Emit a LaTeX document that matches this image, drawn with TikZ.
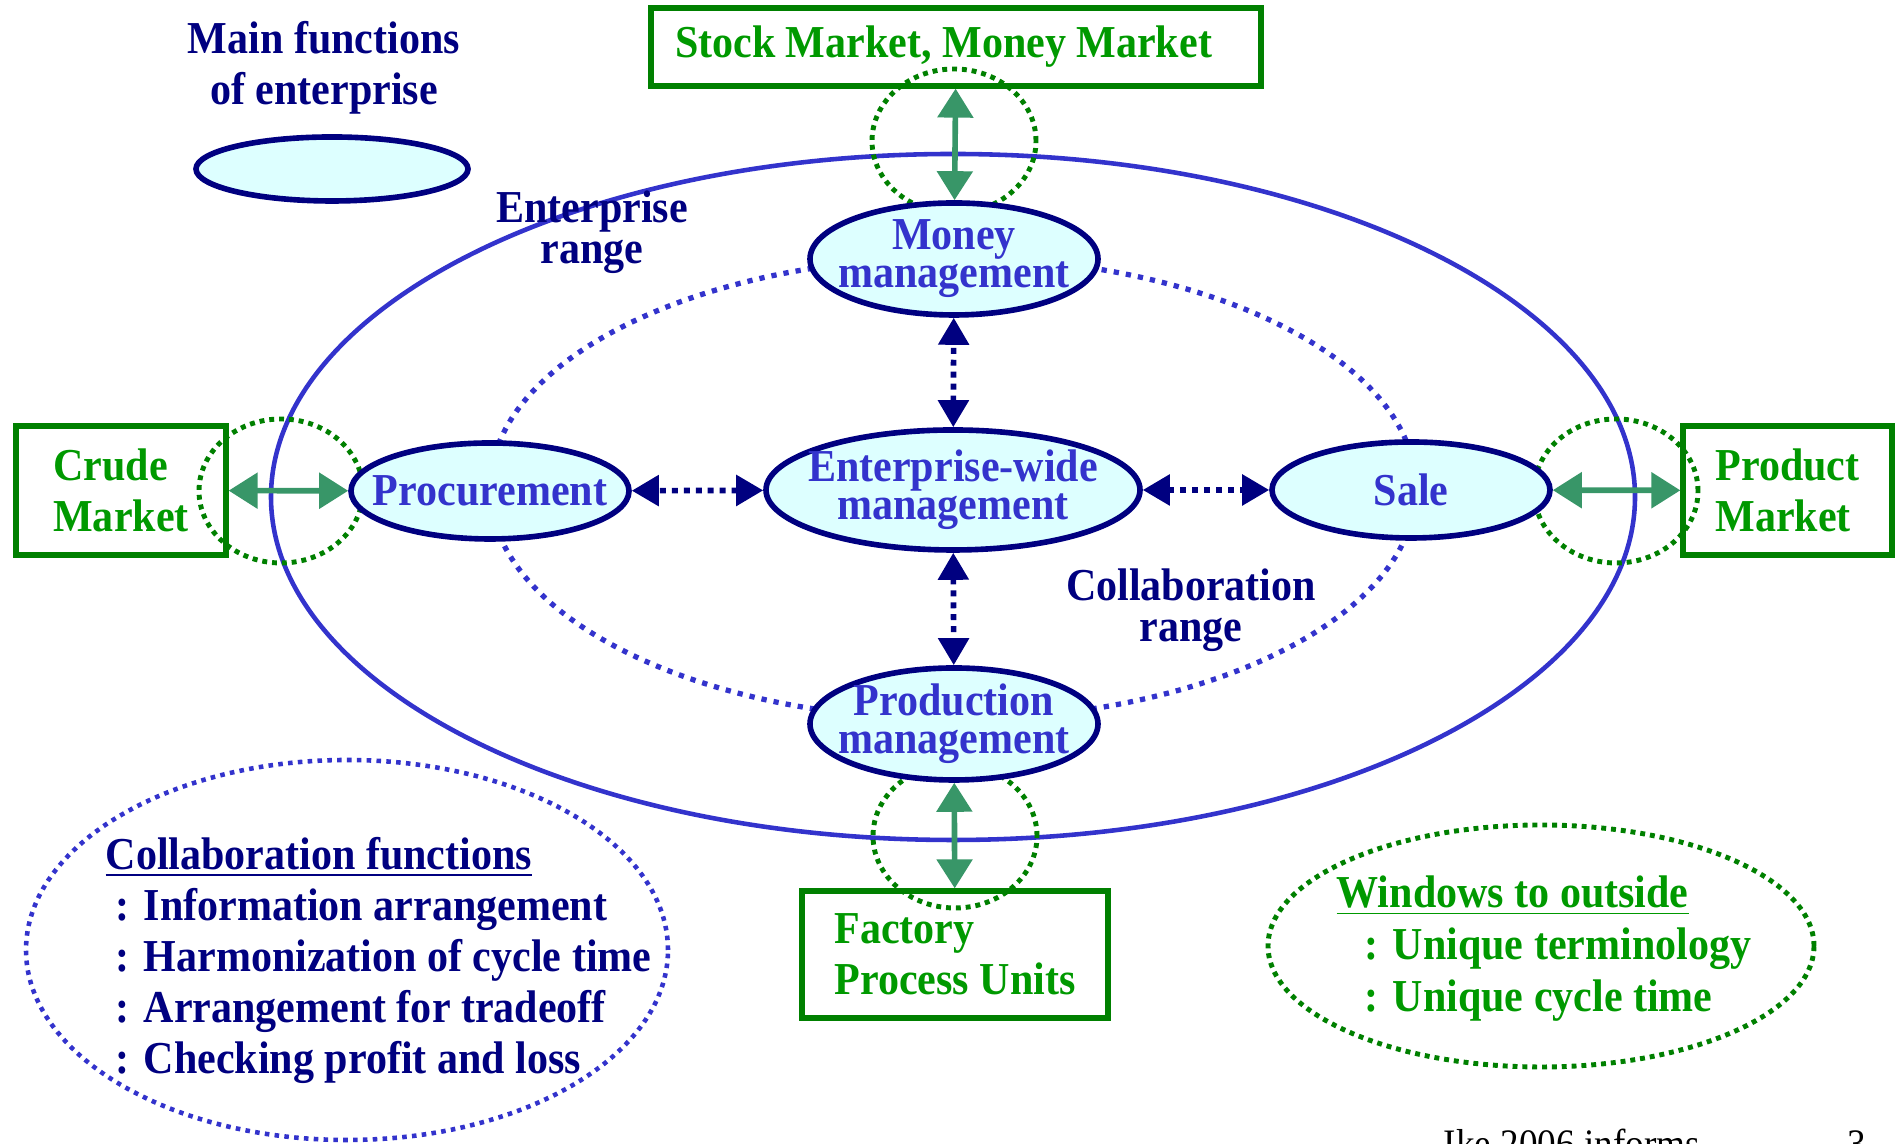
\documentclass[tikz,border=0pt]{standalone}
\usepackage{fontspec}
\setmainfont[FakeStretch=0.92]{Liberation Serif}
\usetikzlibrary{shapes.geometric,arrows.meta}
\definecolor{navyb}{RGB}{0,0,128}
\definecolor{midblue}{RGB}{51,51,204}
\definecolor{lightcy}{RGB}{221,255,255}
\definecolor{boxgreen}{RGB}{0,128,0}
\definecolor{txtgreen}{RGB}{0,153,0}
\definecolor{arrgreen}{RGB}{56,150,104}

\begin{document}
\begin{tikzpicture}[
 func/.style={ellipse,draw=navyb,line width=1.6pt,fill=lightcy,text=midblue,inner sep=-1cm,align=center,font=\fontsize{13}{10.8}\selectfont\bfseries},
 mkt/.style={draw=boxgreen,line width=1.5pt,text=txtgreen,align=left,inner sep=0pt,font=\fontsize{13}{14.5}\selectfont\bfseries},
 window/.style={draw=boxgreen,line width=1.4pt,dash pattern=on 1.4pt off 1.4pt},
 link/.style={{Triangle[width=0.30cm,length=0.27cm]}-{Triangle[width=0.30cm,length=0.27cm]},navyb,line width=1.6pt,dash pattern=on 1.7pt off 1.7pt},
 outlink/.style={{Triangle[width=0.35cm,length=0.29cm]}-{Triangle[width=0.35cm,length=0.29cm]},arrgreen,line width=1.6pt},
 lbl/.style={text=navyb,font=\fontsize{13}{11.7}\selectfont\bfseries,align=center}
]
\useasboundingbox (0,0) rectangle (18.96,11.44);
% ranges
\draw[midblue,line width=1.3pt](9.53,6.47) ellipse [x radius=6.82cm, y radius=3.43cm];
\draw[midblue,line width=1.5pt,dash pattern=on 1.5pt off 2pt](9.53,6.555) ellipse [x radius=4.63cm, y radius=2.31cm];
% windows to outside
\foreach \x/\y in {9.54/10.03,9.55/3.08,2.81/6.53,16.16/6.53}{
 \draw[window](\x,\y) ellipse [x radius=0.82cm, y radius=0.72cm];}
% markets
\node[mkt,minimum width=6.10cm,minimum height=0.78cm] (stock) at (9.56,10.97) {Stock Market, Money Market\hspace{0.25cm}};
\node[mkt,minimum width=2.10cm,minimum height=1.29cm] (crude) at (1.21,6.535) {Crude\\Market};
\node[mkt,minimum width=2.09cm,minimum height=1.29cm] (product) at (17.875,6.535) {Product\\Market};
\node[mkt,minimum width=3.06cm,minimum height=1.27cm] (factory) at (9.55,1.895) {Factory\\Process Units\hspace{0.3cm}};
% main functions
\node[func,minimum width=2.88cm,minimum height=1.12cm] (money) at (9.54,8.85) {Money\\management};
\node[func,minimum width=3.74cm,minimum height=1.20cm] (ewm) at (9.53,6.54) {Enterprise-wide\\management};
\node[func,minimum width=2.78cm,minimum height=0.96cm] (proc) at (4.90,6.53) {Procurement};
\node[func,minimum width=2.78cm,minimum height=0.96cm] (sale) at (14.11,6.54) {Sale};
\node[func,minimum width=2.88cm,minimum height=1.12cm] (prod) at (9.54,4.20) {Production\\management};
% collaboration links
\foreach \n in {money,prod,proc,sale}{
 \draw[link](ewm)--(\n);}
\draw[outlink](money)--(stock);
\draw[outlink](prod)--(factory);
\draw[outlink](proc)--(crude);
\draw[outlink](sale)--(product);
% legend and labels
\node[lbl,font=\fontsize{13}{14.5}\selectfont\bfseries] (mainfn) at (3.24,10.76) {Main functions\\of enterprise};
\node[func,minimum width=2.72cm,minimum height=0.64cm] (legend) at (3.32,9.75) {};
\node[lbl] (entrange) at (5.92,9.12) {Enterprise\\range};
\node[lbl] (colrange) at (11.91,5.34) {Collaboration\\range};
% notes
\draw[midblue,line width=1.3pt,dash pattern=on 1.3pt off 1.5pt](3.47,1.94) ellipse [x radius=3.21cm, y radius=1.90cm];
\node[lbl,anchor=west,text height=0.3cm,text depth=0.08cm,inner sep=0pt] (colfn) at (1.05,2.855) {\underline{Collaboration functions}};
\foreach \t [count=\i] in {Information arrangement,Harmonization of cycle time,Arrangement for tradeoff,Checking profit and loss}{
 \node[lbl,anchor=west,text height=0.3cm,text depth=0.08cm,inner sep=0pt] (colfn\i) at (1.15,2.855-0.51*\i) {: \t};}
\draw[window](15.41,1.98) ellipse [x radius=2.73cm, y radius=1.21cm];
\node[lbl,text=txtgreen,anchor=west,text height=0.3cm,text depth=0.08cm,inner sep=0pt] (winout) at (13.36,2.47) {\underline{Windows to outside}};
\foreach \t [count=\i] in {Unique terminology,Unique cycle time}{
 \node[lbl,text=txtgreen,anchor=west,text height=0.3cm,text depth=0.08cm,inner sep=0pt] (winout\i) at (13.64,2.47-0.52*\i) {: \t};}
% footer
\node[anchor=base west,inner sep=0pt,font=\fontsize{11.5}{12}\selectfont] (foot) at (14.43,-0.14) {Ike 2006 informs};
\node[anchor=base west,inner sep=0pt,font=\fontsize{11.5}{12}\selectfont] (page) at (18.47,-0.14) {3};
\end{tikzpicture}
\end{document}
